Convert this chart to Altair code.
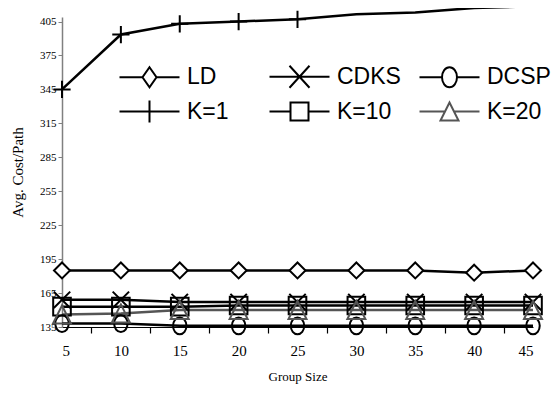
import altair as alt
import pandas as pd

groups = [5, 10, 15, 20, 25, 30, 35, 40, 45]
series_names = ["LD", "CDKS", "DCSP", "K=1", "K=10", "K=20"]
ld = [185, 185, 185, 185, 185, 185, 185, 183, 185]
cdks = [159, 159, 157, 157, 157, 157, 157, 157, 157]
dcsp = [138, 138, 136, 136, 136, 136, 136, 136, 136]
k1 = [345, 393.5, 403, 405, 407, 411.5, 413, 417, 418.5]
k10 = [153, 153, 153, 154, 154, 154, 154, 154, 154]
k20 = [146, 147, 150, 150, 150, 150, 150, 150, 150]
y_ticks = [135, 165, 195, 225, 255, 285, 315, 345, 375, 405]

rows = []
for name, vals in zip(series_names, [ld, cdks, dcsp, k1, k10, k20]):
    for g, v in zip(groups, vals):
        rows.append({"group": g, "cost": v, "series": name})
df = pd.DataFrame(rows)

colors = ["#000000", "#000000", "#000000", "#000000", "#000000", "#555555"]
fills = ["white", "transparent", "transparent", "transparent", "transparent", "transparent"]
marker_paths = [
    "M0,-1L1,0L0,1L-1,0Z",
    "M-1,-1L1,1M-1,1L1,-1",
    "M0.8,0A0.8,1 0 1,1 -0.8,0A0.8,1 0 1,1 0.8,0Z",
    "M-1,0H1M0,-1V1",
    "M-1,-1H1V1H-1Z",
    "M0,-1L1,1H-1Z",
]
marker_sizes = [256, 324, 324, 441, 256, 324]
# legend symbols: unit = 10 px (symbolSize 400), line spans +-3 units (60 px)
legend_paths = [
    "M-3,0H-0.7M0.7,0H3M0,-1L0.7,0L0,1L-0.7,0Z",
    "M-3,0H3M-1,-1.1L1,1.1M-1,1.1L1,-1.1",
    "M-3,0H-0.75M0.75,0H3M0.75,0A0.75,1 0 1,1 -0.75,0A0.75,1 0 1,1 0.75,0Z",
    "M-3,0H3M0,-1.1V1.1",
    "M-3,0H-0.9M0.9,0H3M-0.9,-0.9H0.9V0.9H-0.9Z",
    "M-3,0H-0.45M0.45,0H3M0,-0.9L0.9,0.9H-0.9Z",
]

W, H = 471, 310
px_per_unit = W / (45 - 5)
half_step = 2.5 * px_per_unit

x = alt.X(
    "group:Q",
    scale=alt.Scale(domain=[5, 45], nice=False, zero=False),
    axis=alt.Axis(
        values=groups, title="Group Size", tickOffset=half_step, labelOffset=-half_step,
        labelFont="Liberation Serif", labelFontSize=15, labelColor="#000000",
        titleFont="Liberation Serif", titleFontSize=13, titleFontWeight="normal",
        titleColor="#000000", titlePadding=12,
        tickSize=6, tickColor="#000000", tickWidth=1.2, domainColor="#000000", domainWidth=1,
        labelPadding=10, grid=False,
    ),
)
y = alt.Y(
    "cost:Q",
    scale=alt.Scale(domain=[135, 409], nice=False, zero=False),
    axis=alt.Axis(
        values=y_ticks, title="Avg. Cost/Path",
        labelFont="Liberation Serif", labelFontSize=11, labelColor="#000000",
        titleFont="Liberation Serif", titleFontSize=15, titleFontWeight="normal",
        titleColor="#000000", titlePadding=14,
        tickSize=4, tickColor="#808080", domainColor="#808080", domainWidth=1.5,
        labelPadding=2, grid=False,
    ),
)

lines = alt.Chart(df).mark_line(strokeWidth=2.5).encode(
    x=x, y=y,
    color=alt.Color("series:N", scale=alt.Scale(domain=series_names, range=colors), legend=None),
)

points = alt.Chart(df).transform_filter("datum.cost <= 409").mark_point(strokeWidth=2, opacity=1).encode(
    x=x, y=y,
    stroke=alt.Stroke("series:N", scale=alt.Scale(domain=series_names, range=colors), legend=None),
    fill=alt.Fill("series:N", scale=alt.Scale(domain=series_names, range=fills), legend=None),
    shape=alt.Shape("series:N", scale=alt.Scale(domain=series_names, range=marker_paths), legend=None),
    size=alt.Size("series:N", scale=alt.Scale(domain=series_names, range=marker_sizes), legend=None),
)

legend_layer = alt.Chart(df).transform_filter("datum.cost < 0").mark_point(filled=False, strokeWidth=2, opacity=1).encode(
    x=x, y=y,
    color=alt.Color("series:N", scale=alt.Scale(domain=series_names, range=colors), title=None),
    shape=alt.Shape("series:N", scale=alt.Scale(domain=series_names, range=legend_paths), title=None),
)

chart = alt.layer(lines, points, legend_layer).resolve_scale(
    color="independent", shape="independent"
).properties(
    width=W, height=H,
    autosize=alt.AutoSizeParams(type="none"),
    padding={"left": 54, "top": 9, "right": 18, "bottom": 67},
).configure_view(strokeWidth=0).configure_legend(
    orient="none", legendX=76, legendY=48, columns=3, gridAlign="all", direction="horizontal",
    symbolSize=400, symbolStrokeWidth=2, labelFont="Liberation Sans",
    labelFontSize=23,
    labelColor="#000000", labelOffset=26, columnPadding=14, rowPadding=4,
    symbolOpacity=1,
)

chart.save("out.html", embed_options={"renderer": "svg", "actions": False})
